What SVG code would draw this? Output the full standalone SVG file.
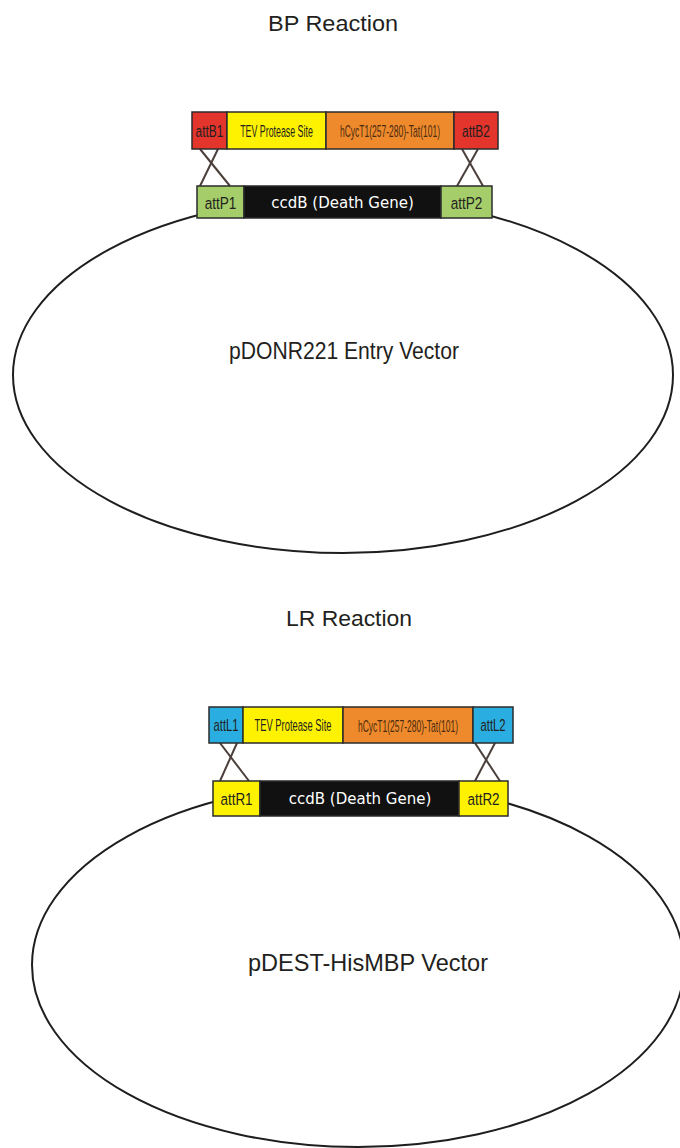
<svg xmlns="http://www.w3.org/2000/svg" width="680" height="1148" viewBox="0 0 680 1148">
  <style>
    .title { font-family: "Liberation Sans", Arial, sans-serif; font-size: 22px; fill: #231f20; text-anchor: middle; }
    .vec { font-family: "Liberation Sans", Arial, sans-serif; font-size: 24px; fill: #231f20; text-anchor: middle; }
    .lbl { font-family: "Liberation Sans", Arial, sans-serif; font-size: 17px; fill: #231f20; text-anchor: middle; }
    .site { font-family: "Liberation Sans", Arial, sans-serif; font-size: 17px; fill: #231f20; text-anchor: middle; }
    .ccdb { font-family: "DejaVu Sans", Verdana, sans-serif; font-size: 15px; fill: #ffffff; text-anchor: middle; }
    .box { stroke: #2b2b2b; stroke-width: 1.5; }
    .plasmid { fill: none; stroke: #1e1e1e; stroke-width: 2; }
    .cross { stroke: #4a3f3a; stroke-width: 2; }
    .red { fill: #e3352c; }
    .yellow { fill: #fff200; }
    .orange { fill: #ef8a2c; }
    .green { fill: #a5cd6a; }
    .blue { fill: #2aaee2; }
    .black { fill: #111111; }
    .dark { fill: #4a2a10; }
  </style>

  <!-- Section titles -->
  <g id="title-bp"><text class="title" x="333" y="31" textLength="130" lengthAdjust="spacingAndGlyphs">BP Reaction</text></g>
  <g id="title-lr"><text class="title" x="349" y="626" textLength="126" lengthAdjust="spacingAndGlyphs">LR Reaction</text></g>

  <!-- Plasmid backbones -->
  <g id="pDONR221">
    <ellipse class="plasmid" cx="343" cy="375" rx="330" ry="178"/>
    <text class="vec" x="344" y="359" textLength="230" lengthAdjust="spacingAndGlyphs">pDONR221 Entry Vector</text>
  </g>
  <g id="pDEST-HisMBP">
    <ellipse class="plasmid" cx="358" cy="965" rx="326" ry="182"/>
    <text class="vec" x="368" y="971" textLength="240" lengthAdjust="spacingAndGlyphs">pDEST-HisMBP Vector</text>
  </g>

  <!-- Recombination crossovers -->
  <g id="connectors">
    <line class="cross" x1="200" y1="149" x2="230" y2="186"/>
    <line class="cross" x1="218" y1="149" x2="200" y2="186"/>
    <line class="cross" x1="462" y1="149" x2="483" y2="186"/>
    <line class="cross" x1="478" y1="149" x2="457" y2="186"/>
    <line class="cross" x1="220" y1="743" x2="249" y2="781"/>
    <line class="cross" x1="237" y1="743" x2="220" y2="781"/>
    <line class="cross" x1="475" y1="743" x2="500" y2="781"/>
    <line class="cross" x1="495" y1="743" x2="475" y2="781"/>
  </g>

  <!-- BP insert: attB-flanked cassette (condensed labels via horizontal scale) -->
  <g id="bp-insert">
    <rect class="box red" x="192" y="112" width="35" height="37"/>
    <rect class="box yellow" x="227" y="112" width="99" height="37"/>
    <rect class="box orange" x="326" y="112" width="128" height="37"/>
    <rect class="box red" x="454" y="112" width="44" height="37"/>
    <text class="lbl" transform="translate(209.5 136.5) scale(0.7 1)">attB1</text>
    <text class="lbl" transform="translate(276.5 136.5) scale(0.52 1)">TEV Protease Site</text>
    <text class="lbl dark" transform="translate(390 136.5) scale(0.5 1)">hCycT1(257-280)-Tat(101)</text>
    <text class="lbl" transform="translate(476 136.5) scale(0.7 1)">attB2</text>
  </g>

  <!-- BP donor: attP-flanked ccdB -->
  <g id="bp-donor">
    <rect class="box green" x="197" y="186" width="47" height="32"/>
    <rect class="box black" x="244" y="186" width="197" height="32"/>
    <rect class="box green" x="441" y="186" width="51" height="32"/>
    <text class="site" transform="translate(220.5 208.5) scale(0.8 1)">attP1</text>
    <text class="ccdb" x="342.5" y="207.5">ccdB (Death Gene)</text>
    <text class="site" transform="translate(466.5 208.5) scale(0.8 1)">attP2</text>
  </g>

  <!-- LR entry clone: attL-flanked cassette -->
  <g id="lr-insert">
    <rect class="box blue" x="209" y="707" width="34" height="36" stroke="#6b6b6b"/>
    <rect class="box yellow" x="243" y="707" width="100" height="36"/>
    <rect class="box orange" x="343" y="707" width="130" height="36"/>
    <rect class="box blue" x="473" y="707" width="40" height="36" stroke="#6b6b6b"/>
    <text class="lbl" transform="translate(226 730.5) scale(0.66 1)">attL1</text>
    <text class="lbl" transform="translate(293 730.5) scale(0.55 1)">TEV Protease Site</text>
    <text class="lbl dark" transform="translate(408 731.5) scale(0.5 1)">hCycT1(257-280)-Tat(101)</text>
    <text class="lbl" transform="translate(493 730.5) scale(0.66 1)">attL2</text>
  </g>

  <!-- LR destination: attR-flanked ccdB -->
  <g id="lr-dest">
    <rect class="box yellow" x="213" y="781" width="47" height="35"/>
    <rect class="box black" x="260" y="781" width="199" height="35"/>
    <rect class="box yellow" x="459" y="781" width="49" height="35"/>
    <text class="site" transform="translate(236.5 805) scale(0.79 1)">attR1</text>
    <text class="ccdb" x="360" y="804">ccdB (Death Gene)</text>
    <text class="site" transform="translate(483.5 805) scale(0.79 1)">attR2</text>
  </g>
</svg>
